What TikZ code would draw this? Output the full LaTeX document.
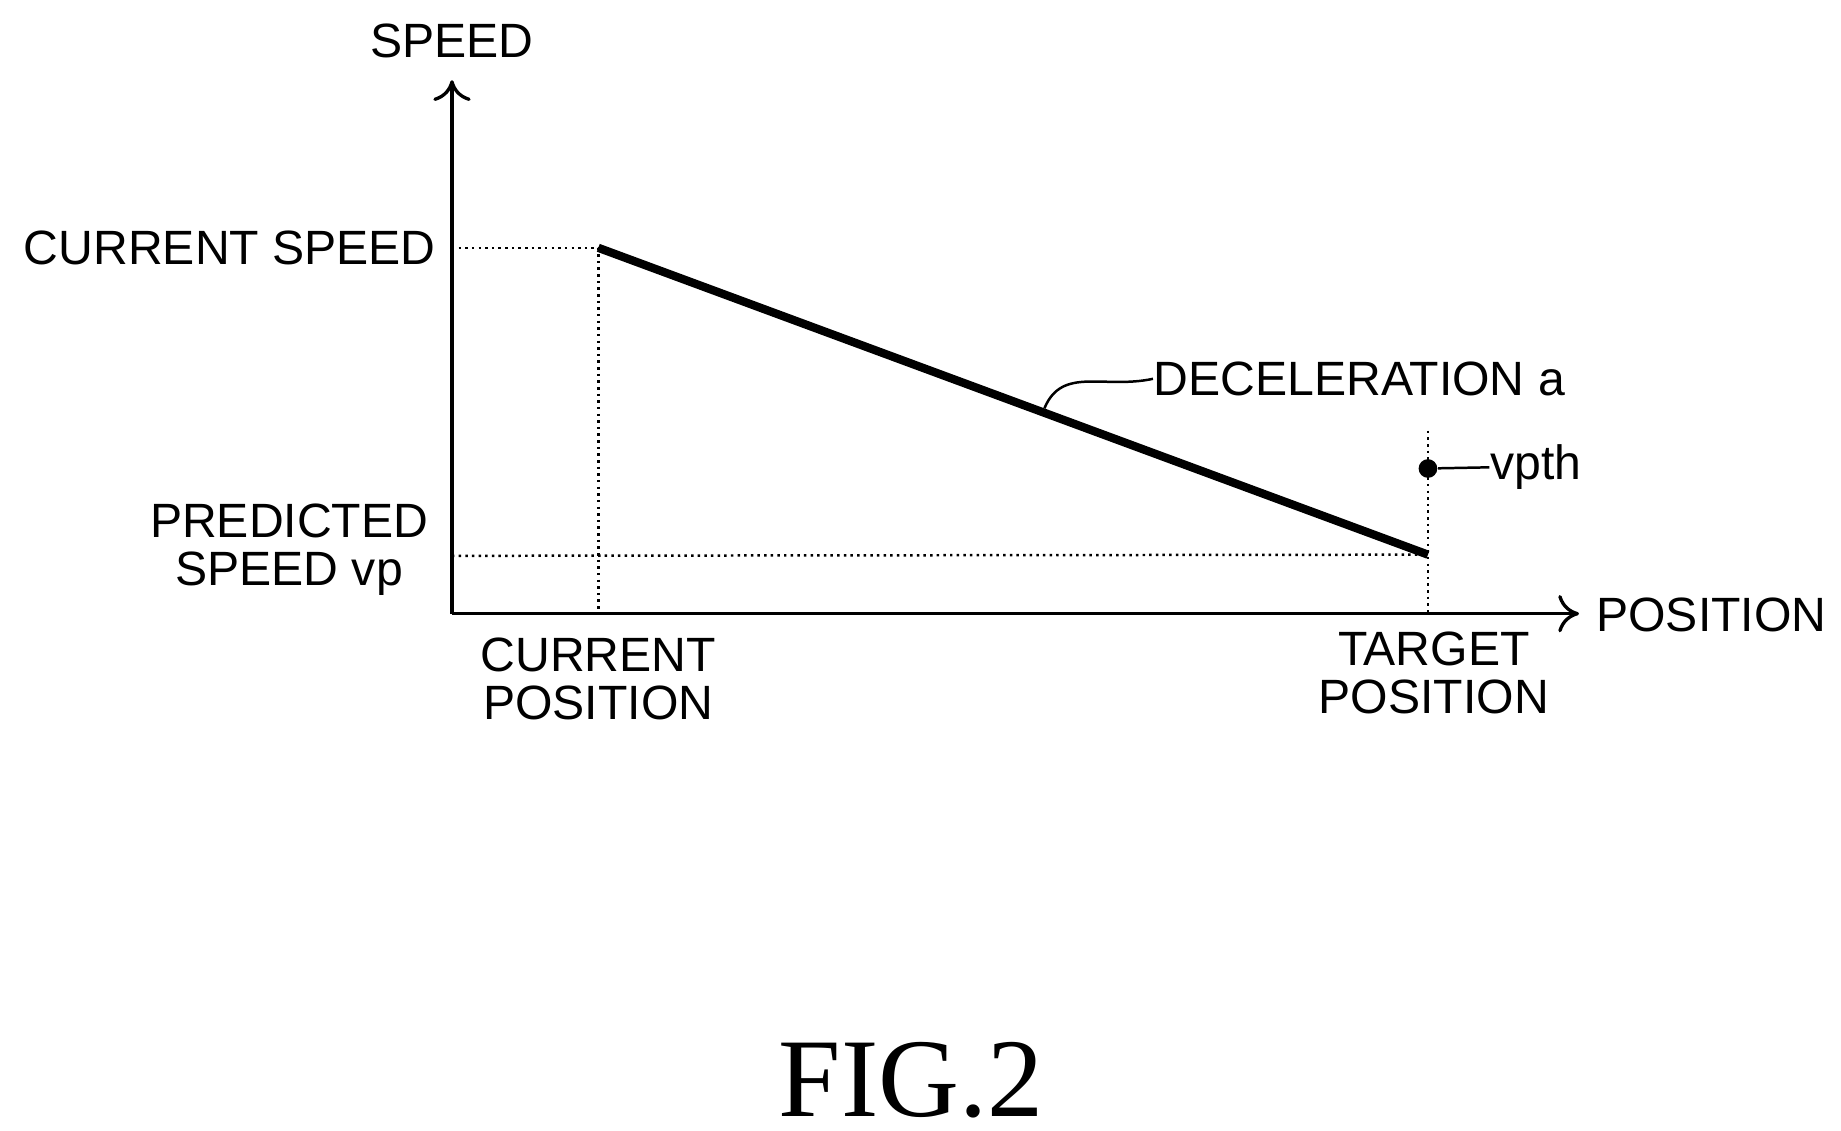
\documentclass[tikz,border=0pt]{standalone}
\usetikzlibrary{arrows.meta}
\usepackage{fontspec}
\setmainfont{Liberation Sans}
\newfontfamily\serifo{Liberation Serif}
\begin{document}
\begin{tikzpicture}[x=0.01cm,y=-0.01cm,
  lbl/.style={font=\fontsize{11.6}{12.6}\selectfont, inner sep=0pt},
  dots/.style={densely dotted, line width=0.6pt},
  axis/.style={line width=0.8pt,-{To[length=5pt,width=9pt]}}]
\useasboundingbox (0,0) rectangle (1560,958);
\coordinate (O) at (383,520);
\coordinate (ytop) at (383,68);
\coordinate (xend) at (1338,520);
\draw[axis] (O) -- (ytop);
\draw[axis] (O) -- (xend);
\node[lbl] (speed) at (383,35) {SPEED};
\node[lbl,anchor=west] (pos) at (1352,521) {POSITION};
\coordinate (A) at (507,210);
\coordinate (B) at (1210,470);
\coordinate (Ay) at (383,210);
\coordinate (Ax) at (507,520);
\coordinate (By) at (383,471);
\coordinate (Bx) at (1210,520);
\coordinate (Bt) at (1210,365);
\draw[dots] (Ay) -- (A) -- (Ax);
\draw[dots] (By) -- (B);
\draw[dots] (Bt) -- (Bx);
\draw[line width=2pt] (A) -- (B);
\node[lbl,anchor=east] (cs) at (370,210) {CURRENT SPEED};
\node[lbl,align=center] (ps) at (245,466) {PREDICTED\\[-1pt]SPEED vp};
\node[lbl,align=center] (cp) at (507,575) {CURRENT\\[-1pt]POSITION};
\node[lbl,align=center] (tp) at (1215,570) {TARGET\\[-1pt]POSITION};
\node[lbl,anchor=west] (dec) at (977,321) {DECELERATION a};
\coordinate (dl) at (885,346);
\draw[line width=0.6pt] (dl) .. controls (900,310) and (935,330) .. (dec.west);
\node[circle,fill,inner sep=0pt,minimum size=4.5pt] (vp) at (1210,397) {};
\node[lbl,anchor=west] (vpth) at (1262,396) {vpth};
\draw[line width=0.6pt] (vp) -- (vpth.west);
\node[font=\serifo\fontsize{27}{29}\selectfont] (fig) at (772,915) {FIG.2};
\end{tikzpicture}
\end{document}
